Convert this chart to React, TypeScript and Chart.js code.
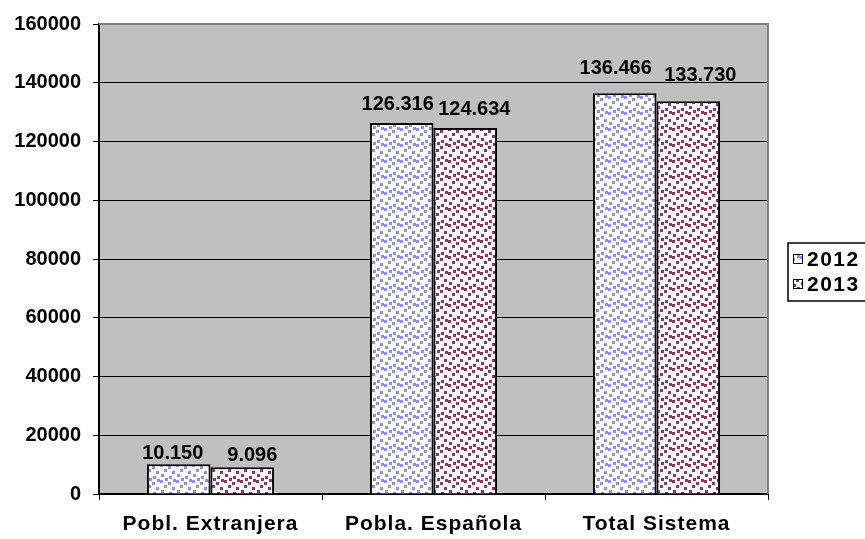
import React, { useEffect, useRef } from "react";
import { Chart, registerables } from "chart.js";

Chart.register(...registerables);

const categories = ["Pobl. Extranjera", "Pobla. Española", "Total Sistema"];
const seriesNames = ["2012", "2013"];
const values2012 = [10150, 126316, 136466];
const values2013 = [9096, 124634, 133730];
const yMax = 160000;
const yStep = 20000;

// styling (label nudges relative to bar top, in px)
const labelGapY = [[5, 6], [13, 13], [19, 20]];
const labelDX = [[-6, 10], [-4, 9], [-9, 12]];
const FONT = "'Liberation Sans', Arial, sans-serif";

function fmt(v: number): string {
  return String(v).replace(/\B(?=(\d{3})+(?!\d))/g, ".");
}

function makePattern(color: string): CanvasPattern | string {
  const c = document.createElement("canvas");
  c.width = 16;
  c.height = 16;
  const g = c.getContext("2d");
  if (!g) return color;
  g.fillStyle = "#ffffff";
  g.fillRect(0, 0, 16, 16);
  g.fillStyle = color;
  const pts = [
    [0, 0], [8, 2], [4, 5], [12, 7], [1, 10], [9, 12], [13, 15], [5, 14],
  ];
  for (const [x, y] of pts) {
    g.fillRect(x, y, 3, 3);
    if (y + 3 > 16) g.fillRect(x, y - 16, 3, 3);
  }
  const p = g.createPattern(c, "repeat");
  return p || color;
}

export default function App() {
  const ref = useRef<HTMLCanvasElement | null>(null);

  useEffect(() => {
    if (!ref.current) return;
    const pat2012 = makePattern("#8c8cff");
    const pat2013 = makePattern("#993366");
    const patterns = [pat2012, pat2013];

    const bgPlugin = {
      id: "plotBg",
      afterLayout(chart: any) {
        const s = chart.scales.x;
        if (s && !s.__spaced) {
          const orig = s.drawLabels.bind(s);
          s.drawLabels = (area: any) => {
            const c = chart.ctx as any;
            c.letterSpacing = "1px";
            orig(area);
            c.letterSpacing = "0px";
          };
          s.__spaced = true;
        }
      },
      beforeDraw(chart: any) {
        const { ctx, chartArea: a } = chart;
        ctx.save();
        ctx.fillStyle = "#c0c0c0";
        ctx.fillRect(a.left, a.top, a.right - a.left, a.bottom - a.top);
        ctx.restore();
      },
      beforeDatasetsDraw(chart: any) {
        const { ctx, chartArea: a } = chart;
        ctx.save();
        ctx.strokeStyle = "#808080";
        ctx.lineWidth = 2;
        ctx.beginPath();
        ctx.moveTo(a.left, a.top);
        ctx.lineTo(a.right, a.top);
        ctx.lineTo(a.right, a.bottom);
        ctx.stroke();
        ctx.restore();
      },
    };

    const labelsPlugin = {
      id: "valueLabels",
      afterDatasetsDraw(chart: any) {
        const { ctx } = chart;
        ctx.save();
        ctx.font = `bold 20px ${FONT}`;
        ctx.fillStyle = "#000";
        ctx.textAlign = "center";
        ctx.textBaseline = "alphabetic";
        chart.data.datasets.forEach((ds: any, i: number) => {
          const meta = chart.getDatasetMeta(i);
          meta.data.forEach((bar: any, j: number) => {
            const v = ds.data[j] as number;
            ctx.fillText(fmt(v), bar.x + labelDX[j][i], bar.y - labelGapY[j][i]);
          });
        });
        ctx.restore();
      },
    };

    const legendPlugin = {
      id: "boxLegend",
      afterDraw(chart: any) {
        const { ctx } = chart;
        ctx.save();
        ctx.strokeStyle = "#000";
        ctx.lineWidth = 1.5;
        ctx.strokeRect(788, 243, 100, 58);
        ctx.font = `bold 21px ${FONT}`;
        (ctx as any).letterSpacing = "1.5px";
        ctx.textBaseline = "middle";
        ctx.textAlign = "left";
        const ys = [259, 284];
        seriesNames.forEach((name, i) => {
          const y = ys[i];
          ctx.fillStyle = patterns[i] as any;
          ctx.fillRect(793, y - 5, 10, 10);
          ctx.lineWidth = 1;
          ctx.strokeStyle = "#000";
          ctx.strokeRect(793.5, y - 4.5, 9, 9);
          ctx.fillStyle = "#000";
          ctx.fillText(name, 807, y + 1);
        });
        ctx.restore();
      },
    };

    const chart = new Chart(ref.current, {
      type: "bar",
      data: {
        labels: categories,
        datasets: [
          {
            label: seriesNames[0],
            data: values2012,
            backgroundColor: pat2012 as any,
            borderColor: "#000",
            borderWidth: 2,
            borderSkipped: "bottom",
            categoryPercentage: 0.57,
            barPercentage: 1,
          },
          {
            label: seriesNames[1],
            data: values2013,
            backgroundColor: pat2013 as any,
            borderColor: "#000",
            borderWidth: 2,
            borderSkipped: "bottom",
            categoryPercentage: 0.57,
            barPercentage: 1,
          },
        ],
      },
      options: {
        animation: false,
        responsive: true,
        maintainAspectRatio: false,
        layout: { padding: { top: 21, right: 97, left: 0, bottom: 0 } },
        plugins: {
          legend: { display: false },
          tooltip: { enabled: false },
        },
        scales: {
          x: {
            grid: {
              offset: true,
              drawOnChartArea: false,
              color: "#000",
              tickLength: 6,
              lineWidth: 1,
            },
            border: { display: true, color: "#000", width: 2 },
            ticks: {
              color: "#000",
              font: { family: FONT, size: 21, weight: "bold" },
              padding: 12,
              maxRotation: 0,
            },
            afterFit(scale: any) {
              scale.height = 45;
            },
          },
          y: {
            min: 0,
            max: yMax,
            ticks: {
              stepSize: yStep,
              color: "#000",
              font: { family: FONT, size: 20, weight: "bold" },
              padding: 12,
              callback: (v: any) => String(v),
            },
            grid: { color: "#000", tickLength: 6, lineWidth: 1 },
            border: { display: true, color: "#000", width: 2 },
            afterFit(scale: any) {
              scale.width = 99;
            },
          },
        },
      },
      plugins: [bgPlugin, labelsPlugin, legendPlugin],
    });
    return () => chart.destroy();
  }, []);

  return (
    <div style={{ position: "fixed", left: 0, top: 0, width: 865, height: 539, background: "#fff" }}>
      <canvas ref={ref} />
    </div>
  );
}
